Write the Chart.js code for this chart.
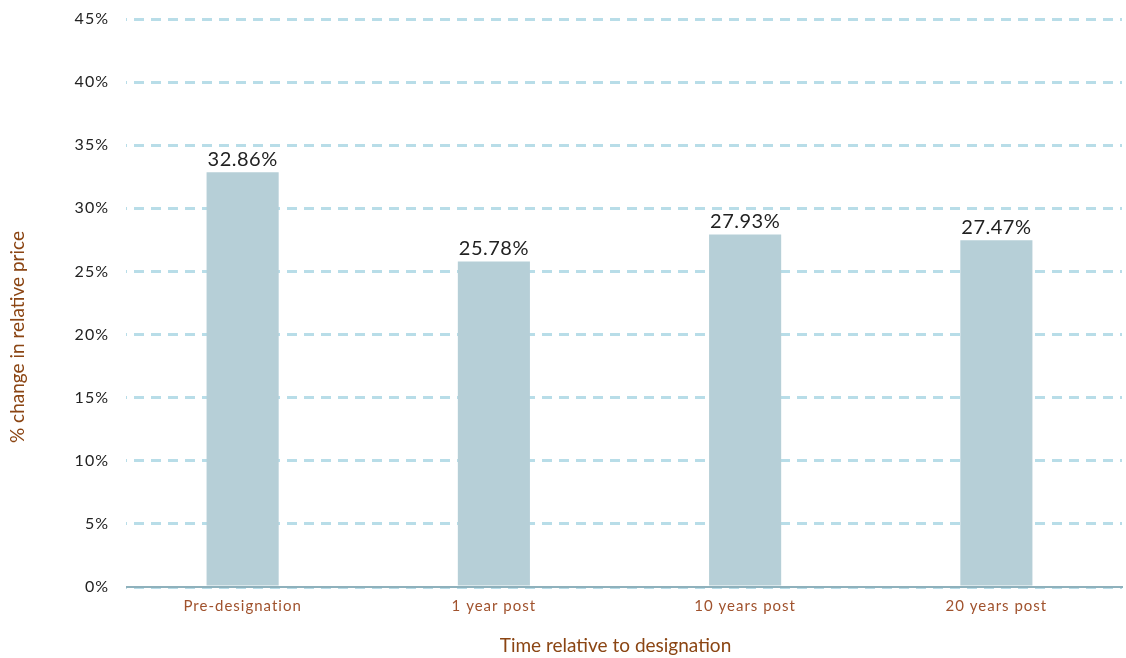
<!DOCTYPE html>
<html>
<head>
<meta charset="utf-8">
<script src="https://cdn.jsdelivr.net/npm/chart.js@4.4.0/dist/chart.umd.min.js"></script>
<style>
  html, body { margin: 0; padding: 0; background: #fff; }
  #wrap { width: 1126px; height: 658px; position: relative; }
</style>
</head>
<body>
<div id="wrap"><canvas id="myChart"></canvas></div>
<script>
const categories = ['Pre-designation', '1 year post', '10 years post', '20 years post'];
const changeValues = [32.86, 25.78, 27.93, 27.47];
const yTicks = [0, 5, 10, 15, 20, 25, 30, 35, 40, 45];
const xTitle = 'Time relative to designation';
const yTitle = '% change in relative price';

// letter spacing for ticks, value labels above bars and the two axis titles
const textBits = {
    id: 'textBits',
    beforeDraw(chart) {
        chart.ctx.letterSpacing = '1px';
    },
    beforeDatasetsDraw(chart) {
        // grid lines in the original start a bit right of the plot edge
        const ctx = chart.ctx;
        const area = chart.chartArea;
        ctx.save();
        ctx.fillStyle = '#fff';
        ctx.fillRect(area.left - 1, area.top - 4, 10, area.bottom - area.top + 8);
        ctx.restore();
    },
    afterDatasetsDraw(chart) {
        const ctx = chart.ctx;
        const meta = chart.getDatasetMeta(0);
        ctx.save();
        ctx.letterSpacing = '0.5px';
        ctx.font = '20px Lato';
        ctx.fillStyle = '#222';
        ctx.textAlign = 'center';
        ctx.textBaseline = 'bottom';
        meta.data.forEach((bar, i) => {
            ctx.fillText(changeValues[i].toFixed(2) + '%', bar.x, bar.y - 3);
        });
        ctx.restore();
    },
    afterDraw(chart) {
        const ctx = chart.ctx;
        const area = chart.chartArea;
        ctx.save();
        ctx.letterSpacing = '0px';
        ctx.fillStyle = '#8b4513';
        ctx.font = '19px Lato';
        ctx.textAlign = 'center';
        ctx.textBaseline = 'middle';
        ctx.fillText(xTitle, (area.left + area.right) / 2 - 4, 646);
        ctx.translate(18, 337);
        ctx.rotate(-Math.PI / 2);
        ctx.fillText(yTitle, 0, 0);
        ctx.restore();
    }
};

const ctx = document.getElementById('myChart').getContext('2d');
const myChart = new Chart(ctx, {
    type: 'bar',
    data: {
        labels: categories,
        datasets: [{
            label: '% change',
            data: changeValues,
            backgroundColor: '#b6cfd7',
            barPercentage: 0.287,
            categoryPercentage: 1
        }]
    },
    options: {
        responsive: true,
        maintainAspectRatio: false,
        animation: false,
        layout: { padding: { top: 19, right: 4, left: 0, bottom: 0 } },
        plugins: {
            legend: { display: false },
            tooltip: { enabled: false }
        },
        scales: {
            x: {
                grid: { display: false, drawTicks: false },
                border: { color: '#8fb1bc', width: 2 },
                ticks: { color: '#a0522d', font: { family: 'Lato', size: 15 }, padding: 10 },
                afterFit(scale) { scale.height = 71; }
            },
            y: {
                min: 0,
                max: 45,
                afterBuildTicks(scale) { scale.ticks = yTicks.map(v => ({ value: v })); },
                grid: {
                    color: '#b8dde8',
                    lineWidth: 3,
                    drawTicks: false
                },
                border: { display: false, dash: [10, 7] },
                ticks: {
                    color: '#222',
                    font: { family: 'Lato', size: 16, lineHeight: 1 },
                    padding: 8,
                    callback: v => v + '%'
                },
                afterFit(scale) { scale.width = 117; }
            }
        }
    },
    plugins: [textBits]
});
</script>
</body>
</html>
